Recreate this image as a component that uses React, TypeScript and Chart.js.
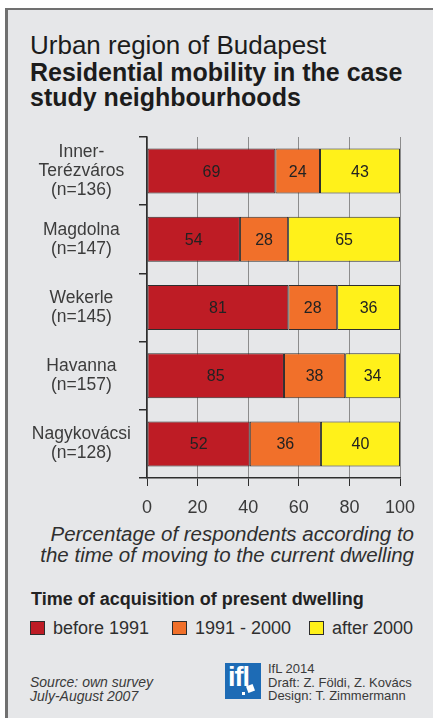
import React, { useEffect, useRef } from "react";
import { Chart, registerables } from "chart.js";

Chart.register(...registerables);

const categories: string[][] = [
  ["Inner-", "Terézváros", "(n=136)"],
  ["Magdolna", "(n=147)"],
  ["Wekerle", "(n=145)"],
  ["Havanna", "(n=157)"],
  ["Nagykovácsi", "(n=128)"],
];
const before1991: number[] = [69, 54, 81, 85, 52];
const from1991to2000: number[] = [24, 28, 28, 38, 36];
const after2000: number[] = [43, 65, 36, 34, 40];
const seriesNames: string[] = ["before 1991", "1991 - 2000", "after 2000"];
const seriesColors: string[] = ["#be1c25", "#f1702a", "#fff11a"];
const xTicks: number[] = [0, 20, 40, 60, 80, 100];

const FONT = "'Liberation Sans', Arial, Helvetica, sans-serif";

export default function App() {
  const ref = useRef<HTMLCanvasElement | null>(null);

  useEffect(() => {
    if (!ref.current) return;
    const counts = [before1991, from1991to2000, after2000];
    const totals = categories.map((_, i) => counts.reduce((s, arr) => s + arr[i], 0));
    const pct = counts.map((arr) => arr.map((v, i) => (v / totals[i]) * 100));

    const valueLabels = {
      id: "valueLabels",
      afterDatasetsDraw(chart: any) {
        const ctx = chart.ctx;
        ctx.save();
        ctx.font = `16px ${FONT}`;
        ctx.fillStyle = "#222222";
        ctx.textAlign = "center";
        ctx.textBaseline = "middle";
        chart.data.datasets.forEach((_ds: any, di: number) => {
          const meta = chart.getDatasetMeta(di);
          meta.data.forEach((el: any, i: number) => {
            const p = el.getCenterPoint();
            ctx.fillText(String(counts[di][i]), p.x, p.y + 1);
          });
        });
        ctx.restore();
      },
    };

    const chart = new Chart(ref.current, {
      type: "bar",
      data: {
        labels: categories as any,
        datasets: pct.map((d, i) => ({
          label: seriesNames[i],
          data: d,
          backgroundColor: seriesColors[i],
          borderColor: "#2e2e2e",
          borderWidth: 1,
          borderSkipped: false,
          categoryPercentage: 1,
          barPercentage: 0.66,
        })),
      },
      options: {
        indexAxis: "y",
        responsive: false,
        animation: false,
        devicePixelRatio: 1,
        layout: { padding: { top: 17, right: 33, left: 0, bottom: 0 } },
        plugins: {
          legend: { display: false },
          tooltip: { enabled: false },
          title: { display: false },
        },
        scales: {
          x: {
            stacked: true,
            min: 0,
            max: 100,
            afterBuildTicks: (scale: any) => {
              scale.ticks = xTicks.map((v) => ({ value: v }));
            },
            afterFit: (scale: any) => {
              scale.height = 42;
              scale.paddingLeft = 0;
              scale.paddingRight = 0;
            },
            ticks: {
              color: "#3a3a3a",
              font: { family: FONT, size: 18 },
              padding: 11,
              maxRotation: 0,
            },
            grid: {
              color: "#8c8c8c",
              borderDash: [1, 2],
              lineWidth: 1,
              tickLength: 8,
              tickColor: "#2e2e2e",
              tickBorderDash: [],
            } as any,
            border: { display: true, color: "#2e2e2e", width: 1.5 },
          },
          y: {
            stacked: true,
            afterFit: (scale: any) => {
              scale.width = 147;
              scale.paddingTop = 0;
              scale.paddingBottom = 0;
            },
            ticks: {
              color: "#3c3c3c",
              font: { family: FONT, size: 17.5, lineHeight: 1.08 },
              crossAlign: "center",
              padding: 8,
            },
            grid: {
              drawOnChartArea: false,
              offset: true,
              tickLength: 8,
              tickColor: "#2e2e2e",
              lineWidth: 1.5,
            },
            border: { display: true, color: "#2e2e2e", width: 1.5 },
          },
        },
      },
      plugins: [valueLabels],
    });
    return () => chart.destroy();
  }, []);

  const textColor = "#2f2f2f";

  return (
    <div
      style={{
        position: "fixed",
        left: 0,
        top: 0,
        width: 433,
        height: 718,
        background: "#ffffff",
        overflow: "hidden",
        fontFamily: FONT,
      }}
    >
      <div
        style={{
          position: "absolute",
          left: 5,
          top: 8,
          width: 440,
          height: 720,
          borderLeft: "3px solid #707070",
          borderTop: "2px solid #707070",
          background: "#e6e7e9",
        }}
      />
      <div style={{ position: "absolute", left: 30, top: 32, fontSize: 26, lineHeight: "26px", color: "#1c1c1c", whiteSpace: "nowrap" }}>
        Urban region of Budapest
      </div>
      <div style={{ position: "absolute", left: 30, top: 60, fontSize: 25, lineHeight: "25px", fontWeight: "bold", color: "#1c1c1c", whiteSpace: "nowrap" }}>
        Residential mobility in the case
      </div>
      <div style={{ position: "absolute", left: 30, top: 85, fontSize: 25, lineHeight: "25px", fontWeight: "bold", color: "#1c1c1c", whiteSpace: "nowrap" }}>
        study neighbourhoods
      </div>

      <canvas
        ref={ref}
        width={433}
        height={400}
        style={{ position: "absolute", left: 0, top: 120, width: 433, height: 400 }}
      />

      <div
        style={{
          position: "absolute",
          right: 19,
          top: 523,
          fontSize: 20.5,
          lineHeight: "21px",
          fontStyle: "italic",
          color: textColor,
          textAlign: "right",
          whiteSpace: "nowrap",
        }}
      >
        Percentage of respondents according to
        <br />
        the time of moving to the current dwelling
      </div>

      <div style={{ position: "absolute", left: 31, top: 589, fontSize: 18, lineHeight: "21px", fontWeight: "bold", color: "#222", whiteSpace: "nowrap" }}>
        Time of acquisition of present dwelling
      </div>

      {seriesNames.map((name, i) => {
        const lefts = [30, 172, 309];
        return (
          <div key={name} style={{ position: "absolute", left: lefts[i], top: 617, height: 22, display: "flex", alignItems: "center", whiteSpace: "nowrap" }}>
            <span
              style={{
                display: "inline-block",
                width: 13,
                height: 12,
                background: seriesColors[i],
                border: "1px solid #2e2e2e",
                marginRight: 8,
              }}
            />
            <span style={{ fontSize: 18, color: textColor }}>{name}</span>
          </div>
        );
      })}

      <div style={{ position: "absolute", left: 30, top: 675, fontSize: 14, lineHeight: "14px", fontStyle: "italic", color: "#3a3a3a", whiteSpace: "nowrap" }}>
        Source: own survey
        <br />
        July-August 2007
      </div>

      <div
        style={{
          position: "absolute",
          left: 225,
          top: 663,
          width: 36,
          height: 36,
          background: "#1d6bb5",
          overflow: "hidden",
        }}
      >
        <div style={{ position: "absolute", left: 3, top: -1, fontSize: 27, fontWeight: "bold", color: "#fff", letterSpacing: -1, lineHeight: "30px" }}>
          ifl
        </div>
        <div style={{ position: "absolute", left: 22, top: 22, width: 7, height: 7, background: "#fff", transform: "rotate(-20deg)" }} />
        <div style={{ position: "absolute", left: 17, top: 29, width: 3, height: 3, background: "#fff" }} />
      </div>

      <div style={{ position: "absolute", left: 268, top: 662, fontSize: 13, lineHeight: "13.5px", color: "#3a3a3a", whiteSpace: "nowrap" }}>
        IfL 2014
        <br />
        Draft: Z. Földi, Z. Kovács
        <br />
        Design: T. Zimmermann
      </div>
    </div>
  );
}
